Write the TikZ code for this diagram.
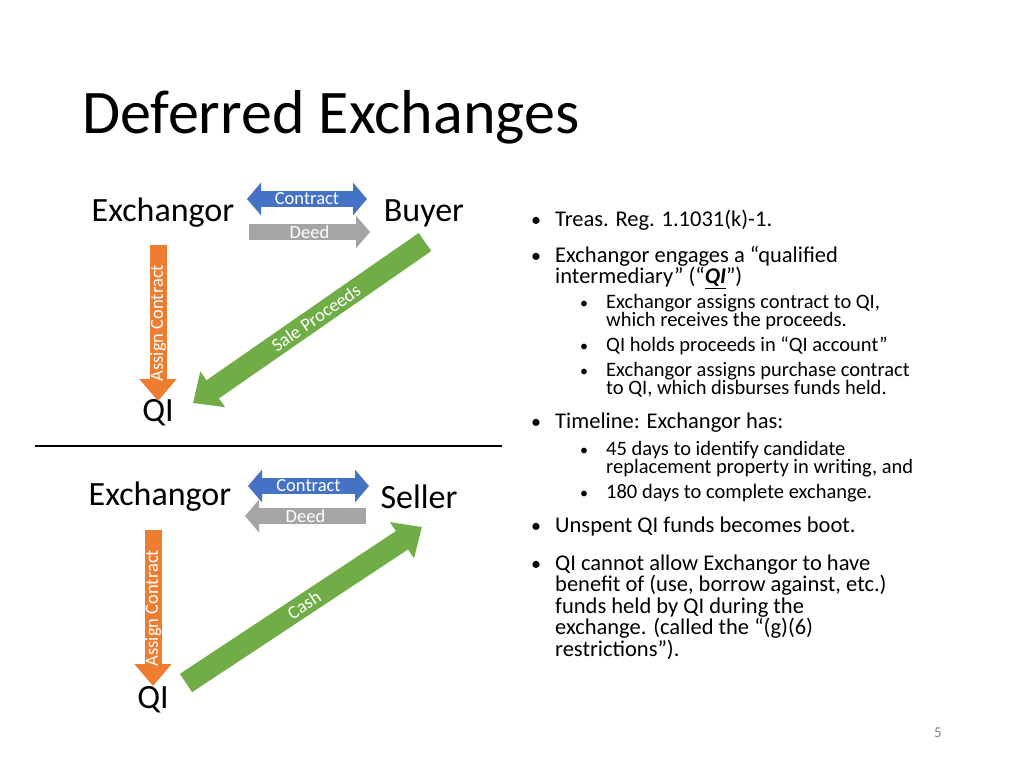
\documentclass[tikz,border=0pt]{standalone}
\usepackage{fontspec}
\setmainfont{Carlito}
\usetikzlibrary{arrows.meta,positioning}
\definecolor{ppblue}{HTML}{4472C4}
\definecolor{pporange}{HTML}{ED7D31}
\definecolor{ppgreen}{HTML}{70AD47}
\definecolor{ppgray}{HTML}{A5A5A5}

\begin{document}
\begin{tikzpicture}[x=1pt, y=-1pt,
    party/.style={font=\fontsize{34}{38}\selectfont},
    fatarrow/.style={line width=#1, line cap=butt},
    flat/.style={fatarrow=16pt, -{Triangle[width=32pt, length=14pt]}},
    dbl/.style={fatarrow=16pt, {Triangle[width=32pt, length=14pt]}-{Triangle[width=32pt, length=14pt]}},
    vert/.style={fatarrow=17pt, -{Triangle[width=36pt, length=22pt]}},
    diag/.style={fatarrow=22pt, -{Triangle[width=42pt, length=24pt]}},
    albl/.style={text=white, font=\fontsize{18.5}{19}\selectfont, inner sep=0pt},
    bullet/.style={anchor=base west, align=left, inner sep=0pt,
                   font=\fontsize{22.5}{21.5}\selectfont},
    subbullet/.style={anchor=base west, align=left, inner sep=0pt,
                      font=\fontsize{20.5}{18}\selectfont}
]
    \useasboundingbox (0,0) rectangle (1024,768);

    % Title
    \node[anchor=base west, inner sep=0pt, font=\fontsize{62}{64}\selectfont] (title) at (82,133) {Deferred Exchanges};

    % Upper part: sale to buyer
    \node[party] (exA) at (163,213) {Exchangor};
    \node[party] (buyer) at (424,213) {Buyer};
    \node[party] (qiA) at (158,413) {QI};
    \coordinate (cAl) at (247,199);
    \coordinate (cAr) at (367,199);
    \coordinate (dAl) at (249,232);
    \coordinate (dAr) at (370,232);
    \coordinate (aAt) at (158,245);
    \coordinate (aAb) at (158,401);
    \coordinate (sAt) at (425,242);
    \coordinate (sAb) at (193,403);
    \draw[dbl, ppblue] (cAl) -- node[albl] {Contract} (cAr);
    \draw[flat, ppgray] (dAl) -- node[albl] {Deed} (dAr);
    \draw[vert, pporange] (aAt) -- node[albl, sloped, rotate=180] {Assign Contract} (aAb);
    \draw[diag, ppgreen] (sAt) -- node[albl, sloped, pos=0.47] {Sale Proceeds} (sAb);

    % Divider
    \coordinate (divL) at (35,446);
    \coordinate (divR) at (502,446);
    \draw[line width=1.5pt] (divL) -- (divR);

    % Lower part: purchase from seller
    \node[party] (exB) at (160,497) {Exchangor};
    \node[party] (seller) at (419,497) {Seller};
    \node[party] (qiB) at (153,700) {QI};
    \coordinate (cBl) at (248,486);
    \coordinate (cBr) at (369,486);
    \coordinate (dBr) at (366,516);
    \coordinate (dBl) at (245,516);
    \coordinate (aBt) at (153,530);
    \coordinate (aBb) at (153,686);
    \coordinate (sBl) at (186,683);
    \coordinate (sBr) at (422,527);
    \draw[dbl, ppblue] (cBl) -- node[albl] {Contract} (cBr);
    \draw[flat, ppgray] (dBr) -- node[albl] {Deed} (dBl);
    \draw[vert, pporange] (aBt) -- node[albl, sloped, rotate=180] {Assign Contract} (aBb);
    \draw[diag, ppgreen] (sBl) -- node[albl, sloped, pos=0.5] {Cash} (sBr);

    % Bullets
    \foreach \y in {226,262,428,532,570}
        \node[anchor=base, font=\fontsize{20}{20}\selectfont] at (536,\y) {•};
    \foreach \y in {308,351,376,455,498}
        \node[anchor=base, font=\fontsize{16}{16}\selectfont] at (584,\y) {•};

    % multi-line nodes sit on the baseline of their last line
    \node[bullet] (b1) at (555,226) {Treas. Reg. 1.1031(k)-1.};
    \node[bullet] (b2) at (555,283.5) {Exchangor engages a “qualified\\intermediary” (“\underline{\textbf{\textit{QI}}}”)};
    \node[subbullet] (s1) at (606,326) {Exchangor assigns contract to QI,\\which receives the proceeds.};
    \node[subbullet] (s2) at (606,351) {QI holds proceeds in “QI account”};
    \node[subbullet] (s3) at (606,394) {Exchangor assigns purchase contract\\to QI, which disburses funds held.};
    \node[bullet] (b3) at (555,428) {Timeline: Exchangor has:};
    \node[subbullet] (s4) at (606,473) {45 days to identify candidate\\replacement property in writing, and};
    \node[subbullet] (s5) at (606,498) {180 days to complete exchange.};
    \node[bullet] (b4) at (555,532) {Unspent QI funds becomes boot.};
    \node[bullet] (b5) at (555,656) {QI cannot allow Exchangor to have\\benefit of (use, borrow against, etc.)\\funds held by QI during the\\exchange. (called the “(g)(6)\\restrictions”).};

    % Page number
    \node[text=gray, font=\fontsize{15}{15}\selectfont] (page) at (938,733) {5};
\end{tikzpicture}
\end{document}
